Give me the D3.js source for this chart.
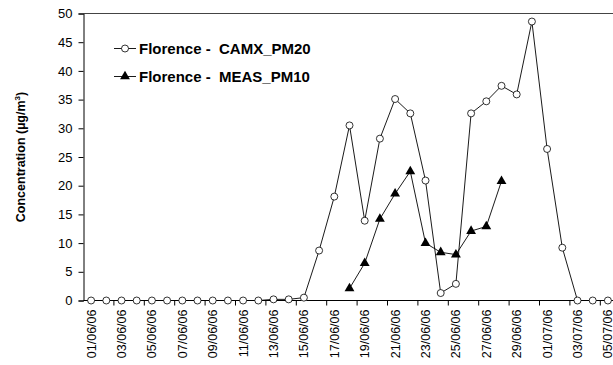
<!DOCTYPE html>
<html>
<head>
<meta charset="utf-8">
<script src="https://cdn.jsdelivr.net/npm/d3@7"></script>
<style>
  html, body { margin: 0; padding: 0; background: #fff; }
  svg { display: block; }
  text { font-family: "Liberation Sans", Arial, sans-serif; fill: #000; }
</style>
</head>
<body>
<svg id="chart" width="613" height="365"></svg>
<script>
// Daily dates, 1 June – 5 July 2006
const dates = [
  "01/06/06","02/06/06","03/06/06","04/06/06","05/06/06","06/06/06","07/06/06",
  "08/06/06","09/06/06","10/06/06","11/06/06","12/06/06","13/06/06","14/06/06",
  "15/06/06","16/06/06","17/06/06","18/06/06","19/06/06","20/06/06","21/06/06",
  "22/06/06","23/06/06","24/06/06","25/06/06","26/06/06","27/06/06","28/06/06",
  "29/06/06","30/06/06","01/07/06","02/07/06","03/07/06","04/07/06","05/07/06"
];

// Modelled concentration (CAMx), one value per day
const camxValues = [
  0, 0, 0, 0, 0, 0, 0, 0, 0, 0, 0, 0, 0.2, 0.2,
  0.5, 8.7, 18.1, 30.5, 13.9, 28.2, 35.1, 32.6, 20.9, 1.3,
  2.9, 32.6, 34.7, 37.4, 35.9, 48.6, 26.4, 9.2, 0, 0, 0
];

// Measured PM10 (only available 18/06 – 28/06)
const measDates = [
  "18/06/06","19/06/06","20/06/06","21/06/06","22/06/06","23/06/06",
  "24/06/06","25/06/06","26/06/06","27/06/06","28/06/06"
];
const measValues = [2.1, 6.5, 14.2, 18.6, 22.5, 10.0, 8.4, 8.0, 12.1, 12.9, 20.8];

const yTicks = [0, 5, 10, 15, 20, 25, 30, 35, 40, 45, 50];
const seriesNames = ["Florence -  CAMX_PM20", "Florence -  MEAS_PM10"];
const yTitle = "Concentration (µg/m";

const svg = d3.select("#chart");
const plot = { left: 83.5, top: 13.5, bottom: 300.5, right: 615.5 };

const x = d3.scaleBand().domain(dates).range([plot.left, plot.right]).padding(0);
const y = d3.scaleLinear().domain([0, 50]).range([plot.bottom, plot.top]);
const cx = d => x(d) + x.bandwidth() / 2;

// Top frame line
svg.append("line")
  .attr("x1", plot.left).attr("x2", plot.right)
  .attr("y1", plot.top).attr("y2", plot.top)
  .attr("stroke", "#444").attr("stroke-width", 1.2);
svg.append("line")
  .attr("x1", plot.right).attr("x2", plot.right)
  .attr("y1", plot.top).attr("y2", plot.bottom)
  .attr("stroke", "#444");

// Y axis
const yAxis = svg.append("g")
  .attr("transform", `translate(${plot.left},0)`)
  .call(d3.axisLeft(y).tickValues(yTicks).tickSize(5).tickPadding(6));
yAxis.select(".domain").attr("stroke", "#000");
yAxis.selectAll(".tick line").attr("stroke", "#000");
yAxis.selectAll("text")
  .style("font-family", "Liberation Sans, Arial, sans-serif")
  .style("font-size", "13px").attr("fill", "#000");

// X axis: labels every other day, tick marks at band boundaries every two days
const labelled = dates.filter((d, i) => i % 2 === 0);
const xAxisG = svg.append("g").attr("transform", `translate(0,${plot.bottom})`);
xAxisG.append("line")
  .attr("x1", plot.left).attr("x2", plot.right)
  .attr("y1", 0).attr("y2", 0).attr("stroke", "#000");
const boundaries = dates.filter((d, i) => i % 2 === 1).map(d => x(d) + x.bandwidth());
xAxisG.selectAll("line.tk").data(boundaries).join("line")
  .attr("class", "tk")
  .attr("x1", d => d).attr("x2", d => d)
  .attr("y1", 0).attr("y2", 5)
  .attr("stroke", "#000");
xAxisG.selectAll("text.lbl").data(labelled).join("text")
  .attr("class", "lbl")
  .attr("transform", d => `translate(${cx(d) + 4.5},9) rotate(-90)`)
  .attr("text-anchor", "end")
  .style("font-size", "12.5px")
  .text(d => d);

// Y axis title
svg.append("text")
  .attr("transform", `translate(25,${(plot.top + plot.bottom) / 2}) rotate(-90)`)
  .attr("text-anchor", "middle")
  .style("font-size", "12.5px").style("font-weight", "bold")
  .call(t => {
    t.append("tspan").text(yTitle);
    t.append("tspan").attr("dy", -5).style("font-size", "8px").text("3");
    t.append("tspan").attr("dy", 5).text(")");
  });

// Series lines
const line = d3.line().x(d => cx(d.date)).y(d => y(d.value));
const camx = dates.map((d, i) => ({ date: d, value: camxValues[i] }));
const meas = measDates.map((d, i) => ({ date: d, value: measValues[i] }));

svg.append("path").datum(camx).attr("d", line)
  .attr("fill", "none").attr("stroke", "#000").attr("stroke-width", 0.9);
svg.append("path").datum(meas).attr("d", line)
  .attr("fill", "none").attr("stroke", "#000").attr("stroke-width", 0.9);

// Markers
svg.selectAll("circle.camx").data(camx).join("circle")
  .attr("class", "camx")
  .attr("cx", d => cx(d.date)).attr("cy", d => y(d.value)).attr("r", 3.5)
  .attr("fill", "#fff").attr("stroke", "#000").attr("stroke-width", 0.8);

const tri = d3.symbol().type(d3.symbolTriangle).size(42);
svg.selectAll("path.meas").data(meas).join("path")
  .attr("class", "meas")
  .attr("transform", d => `translate(${cx(d.date)},${y(d.value)})`)
  .attr("d", tri).attr("fill", "#000");

// Legend
const legend = svg.append("g");
const legendRows = [
  { name: seriesNames[0], y: 48.5, marker: "circle" },
  { name: seriesNames[1], y: 76.5, marker: "triangle" }
];
legendRows.forEach(r => {
  legend.append("line")
    .attr("x1", 114).attr("x2", 136).attr("y1", r.y).attr("y2", r.y)
    .attr("stroke", "#000").attr("stroke-width", 0.9);
  if (r.marker === "circle") {
    legend.append("circle").attr("cx", 125).attr("cy", r.y).attr("r", 3.5)
      .attr("fill", "#fff").attr("stroke", "#000").attr("stroke-width", 0.8);
  } else {
    legend.append("path").attr("transform", `translate(125,${r.y})`)
      .attr("d", tri).attr("fill", "#000");
  }
  legend.append("text")
    .attr("x", 139).attr("y", r.y + 5)
    .style("font-size", "15px").style("font-weight", "bold")
    .style("white-space", "pre")
    .attr("xml:space", "preserve")
    .text(r.name);
});
</script>
</body>
</html>
